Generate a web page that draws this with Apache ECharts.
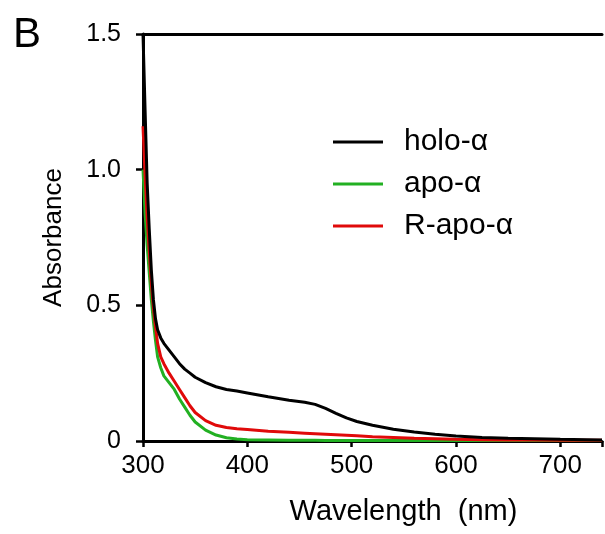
<!DOCTYPE html>
<html>
<head>
    <meta charset="utf-8">
    <title>Absorbance spectra</title>
    <script src="https://cdn.jsdelivr.net/npm/echarts@6/dist/echarts.min.js"></script>
</head>
<body style="margin:0">
    <div id="main" style="width:605px;height:534px;"></div>
    <script type="text/javascript">
    var myChart = echarts.init(document.getElementById('main'));
    // Data
    var wavelength = [300,302,304,306,308,310,312,314,317,320,325,330,335,340,345,350,360,370,380,390,
                      400,420,440,455,465,475,485,495,505,520,540,560,580,600,625,650,675,700,725,740];
    var holo = [1.50,1.22,0.95,0.78,0.63,0.52,0.45,0.41,0.38,0.36,0.335,0.31,0.285,0.265,0.25,0.235,0.215,0.20,0.19,0.184,
                0.177,0.163,0.150,0.143,0.135,0.120,0.102,0.085,0.072,0.058,0.043,0.033,0.025,0.018,0.013,0.010,0.008,0.006,0.005,0.004];
    var apo = [1.00,0.84,0.72,0.62,0.52,0.44,0.37,0.31,0.27,0.24,0.215,0.19,0.155,0.125,0.095,0.07,0.04,0.022,0.012,0.007,
               0.005,0.004,0.003,0.003,0.003,0.002,0.002,0.002,0.002,0.002,0.002,0.002,0.002,0.002,0.002,0.002,0.002,0.002,0.002,0.002];
    var rapo = [1.16,0.98,0.82,0.70,0.58,0.49,0.42,0.36,0.31,0.285,0.25,0.22,0.19,0.16,0.13,0.105,0.075,0.058,0.05,0.045,
                0.042,0.036,0.032,0.029,0.027,0.025,0.023,0.021,0.019,0.016,0.013,0.010,0.008,0.006,0.005,0.004,0.004,0.003,0.003,0.003];
    var names = ['holo-\u03b1', 'apo-\u03b1', 'R-apo-\u03b1'];
    var colors = ['#000000', '#22b022', '#e00a0a'];

    function pairs(ys) {
      return wavelength.map(function (x, i) { return [x, ys[i]]; });
    }

    var font = 'Liberation Sans, Arial, Helvetica, sans-serif';

    var option = {
      backgroundColor: '#fff',
      animation: false,
      title: {
        text: 'B',
        left: 8,
        top: 9,
        textStyle: { fontFamily: font, fontSize: 42, fontWeight: 'normal', color: '#000' }
      },
      legend: {
        orient: 'vertical',
        left: 328,
        top: 121,
        itemWidth: 50,
        itemHeight: 3,
        itemGap: 10,
        icon: 'rect',
        data: names,
        textStyle: { fontFamily: font, fontSize: 30, color: '#000', lineHeight: 32, padding: [0, 0, 0, 16] }
      },
      grid: { left: 143, right: 0, top: 34, bottom: 93 },
      xAxis: [{
        type: 'value',
        min: 300,
        max: 740,
        interval: 100,
        name: 'Wavelength  (nm)',
        nameLocation: 'middle',
        nameGap: 56,
        nameTextStyle: { fontFamily: font, fontSize: 29, color: '#000', padding: [0, 0, 0, 62] },
        axisLine: { lineStyle: { color: '#000', width: 3 } },
        axisTick: { length: 6, lineStyle: { color: '#000', width: 2.5 } },
        axisLabel: {
          fontFamily: font, fontSize: 26, color: '#000', margin: 12,
          formatter: function (v) { return v % 100 === 0 ? String(v) : ''; }
        },
        splitLine: { show: false }
      }, {
        type: 'value',
        position: 'top',
        min: 300,
        max: 740,
        axisLine: { show: true, lineStyle: { color: '#000', width: 3 } },
        axisTick: { show: false },
        axisLabel: { show: false },
        splitLine: { show: false }
      }],
      yAxis: {
        type: 'value',
        min: 0,
        max: 1.5,
        interval: 0.5,
        name: 'Absorbance',
        nameLocation: 'middle',
        nameGap: 76,
        nameTextStyle: { fontFamily: font, fontSize: 26, color: '#000' },
        axisLine: { show: true, lineStyle: { color: '#000', width: 3 } },
        axisTick: { show: true, length: 7, lineStyle: { color: '#000', width: 2.5 } },
        axisLabel: {
          fontFamily: font, fontSize: 25, color: '#000', margin: 22,
          formatter: function (v) { return v === 0 ? '0' : v.toFixed(1); }
        },
        splitLine: { show: false }
      },
      series: [{
        name: names[1],
        type: 'line',
        symbol: 'none',
        data: pairs(apo),
        itemStyle: { color: colors[1] },
        lineStyle: { color: colors[1], width: 3 }
      }, {
        name: names[2],
        type: 'line',
        symbol: 'none',
        data: pairs(rapo),
        itemStyle: { color: colors[2] },
        lineStyle: { color: colors[2], width: 3 }
      }, {
        name: names[0],
        type: 'line',
        symbol: 'none',
        data: pairs(holo),
        itemStyle: { color: colors[0] },
        lineStyle: { color: colors[0], width: 3 }
      }]
    };

    myChart.setOption(option);
    </script>
</body>
</html>
